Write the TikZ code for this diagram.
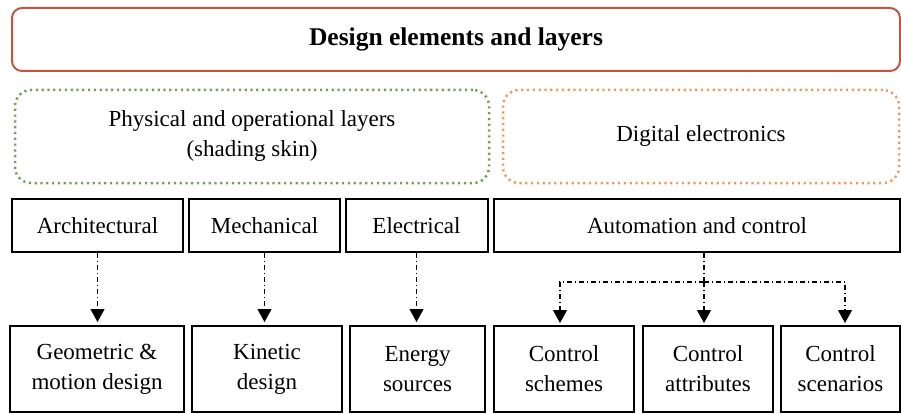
\documentclass[tikz,border=0pt]{standalone}
\usepackage{fontspec}
\setmainfont{Liberation Serif}
\usepackage{xcolor}
\usepackage{tikz}
\usetikzlibrary{arrows.meta}
\definecolor{titlered}{HTML}{C4553A}
\definecolor{layergreen}{HTML}{76A155}
\definecolor{layerorange}{HTML}{EE9A5C}
\tikzset{
    txt/.style={font=\fontsize{23}{30}\selectfont, align=center, inner sep=0pt},
    % Header styles
    headbox/.style={rectangle, draw=titlered, line width=2pt, rounded corners=10pt, font=\fontsize{25.5}{30}\selectfont\bfseries},
    layerbox/.style={rectangle, txt, line width=2.5pt, rounded corners=16pt, dash pattern=on 2.2pt off 3.6pt},
    physlayer/.style={layerbox, draw=layergreen},
    digilayer/.style={layerbox, draw=layerorange},
    % Element styles
    elembox/.style={rectangle, draw, txt, line width=2pt, minimum height=53pt},
    designbox/.style={rectangle, draw, txt, line width=2pt, minimum height=86pt},
    link/.style={line width=1.2pt, dash pattern=on 5pt off 3pt on 1pt off 3pt},
    linkarrow/.style={link, -{Triangle[width=14pt,length=13pt]}, shorten >=3pt}
}

\begin{document}
\begin{tikzpicture}[x=1pt, y=-1pt]
\useasboundingbox (0,0) rectangle (901,414);

% Header
\node[headbox, minimum width=888pt, minimum height=63pt] (design) at (456,39.5) {Design elements and layers};

% Layers
\node[physlayer, minimum width=474pt, minimum height=93pt] (phys) at (252,136.5) {Physical and operational layers\\(shading skin)};
\node[digilayer, minimum width=396pt, minimum height=93pt] (digi) at (701,136.5) {Digital electronics};

% Elements
\node[elembox, minimum width=171pt] (arch) at (97.5,225.5) {Architectural};
\node[elembox, minimum width=151pt] (mech) at (264.5,225.5) {Mechanical};
\node[elembox, minimum width=142pt] (elec) at (416.5,225.5) {Electrical};
\node[elembox, minimum width=406pt] (auto) at (697,225.5) {Automation and control};

% Design outcomes
\node[designbox, minimum width=174pt] (geom) at (97,369) {Geometric \&\\motion design};
\node[designbox, minimum width=150pt] (kin) at (267,369) {Kinetic\\design};
\node[designbox, minimum width=135pt] (energy) at (417.5,369) {Energy\\sources};
\node[designbox, minimum width=140pt] (schemes) at (564,369) {Control\\schemes};
\node[designbox, minimum width=130pt] (attr) at (708,369) {Control\\attributes};
\node[designbox, minimum width=119pt] (scen) at (840.5,369) {Control\\scenarios};

% Connections
\draw[linkarrow] (arch.south) -- (arch.south |- geom.north);
\draw[linkarrow] (mech.south) -- (mech.south |- kin.north);
\draw[linkarrow] (elec.south) -- (elec.south |- energy.north);

\coordinate (hub) at (704,282);
\draw[link] (auto.south -| hub) -- (hub);
\foreach \b/\xb in {schemes/560, attr/704, scen/845} {
    \coordinate (\b top) at (\xb,326);
    \draw[linkarrow] (hub) -| (\b top);
}
\end{tikzpicture}
\end{document}
